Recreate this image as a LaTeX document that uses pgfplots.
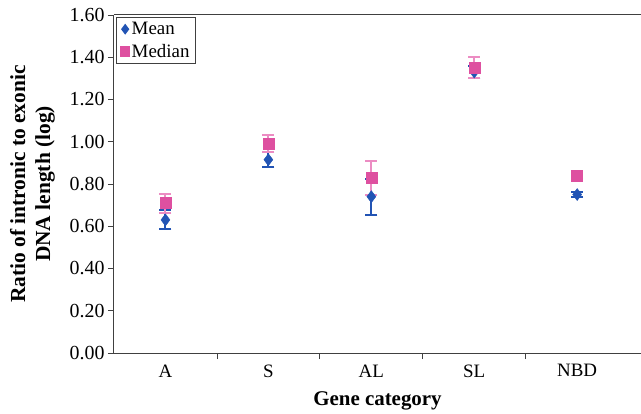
\documentclass[border=0pt]{standalone}
\usepackage{pgfplots}
\pgfplotsset{compat=1.18}
\usepackage{fontspec}
\setmainfont{Liberation Serif}
\definecolor{meanblue}{RGB}{34,84,180}
\definecolor{medpink}{RGB}{222,80,160}
\definecolor{medpinklight}{RGB}{236,140,195}

\begin{document}
\begin{tikzpicture}
\begin{axis}[
    scale only axis,
    width=527bp, height=338bp,
    xmin=-0.5, xmax=4.62,
    ymin=0, ymax=1.6,
    axis x line*=box,
    axis y line*=left,
    tick pos=left,
    axis line style={line width=1pt, draw=black!75},
    xtick={0,1,2,3,4},
    xticklabels={A,S,AL,SL,NBD},
    major x tick style={draw=none},
    minor xtick={0.5,1.5,2.5,3.5},
    ytick={0,0.2,...,1.6},
    tick align=outside,
    tick style={line width=0.8pt, draw=black!75},
    major tick length=6bp, minor tick length=6bp,
    /pgf/number format/assume math mode=true,
    yticklabel style={/pgf/number format/fixed, /pgf/number format/fixed zerofill, /pgf/number format/precision=2, font=\fontsize{20}{20}\selectfont},
    xticklabel style={font=\fontsize{19}{19}\selectfont, yshift=-2bp},
    xlabel={Gene category},
    xlabel style={font=\fontsize{21}{21}\selectfont\bfseries, yshift=-8bp},
    ylabel={Ratio of intronic to exonic\\DNA length (log)},
    ylabel style={align=center, font=\fontsize{21.5}{25}\selectfont\bfseries, yshift=8bp},
    legend style={at={(rel axis cs:0.004,0.995)}, anchor=north west, draw=black!75, line width=1.2pt,
        font=\fontsize{19}{19}\selectfont, inner xsep=4pt, inner ysep=3pt, row sep=4pt,
        legend cell align=left},
    legend image code/.code={\draw[#1, mark size=4.5bp] plot coordinates {(0.05cm,0cm)};},
    clip=false,
]
\coordinate (ll) at (rel axis cs:0,0);
\coordinate (ur) at (rel axis cs:1,1);

% Mean
\addplot[only marks, mark=diamond*, mark size=6bp, color=meanblue,
    error bars/.cd, y dir=both, y explicit,
    error bar style={line width=2pt, meanblue}, error mark options={rotate=90, mark size=6bp, line width=2pt, meanblue}]
    coordinates {
        (0,0.63) +- (0,0.045)
        (1,0.915) +- (0,0.035)
        (2,0.74) +- (0,0.085)
        (3,1.33) +- (0,0.03)
        (4,0.75) +- (0,0.01)
    };
\addlegendentry{Mean}

% Median
\addplot[only marks, mark=square*, mark size=5.5bp, color=medpink,
    error bars/.cd, y dir=both, y explicit,
    error bar style={line width=2pt, medpinklight}, error mark options={rotate=90, mark size=6bp, line width=2pt, medpinklight}]
    coordinates {
        (0,0.71) +- (0,0.045)
        (1,0.99) +- (0,0.04)
        (2,0.83) +- (0,0.08)
        (3,1.35) +- (0,0.05)
        (4,0.84) +- (0,0.01)
    };
\addlegendentry{Median}
\end{axis}
\pgfresetboundingbox
\path[use as bounding box] ([xshift=-114bp,yshift=-61bp]ll) rectangle ([yshift=15bp]ur);
\end{tikzpicture}
\end{document}
